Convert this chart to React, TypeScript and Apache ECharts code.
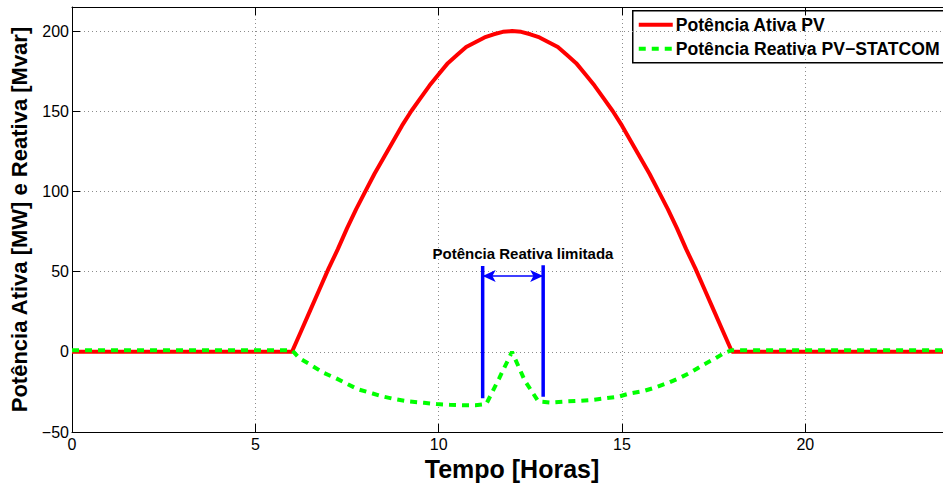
import React, { useEffect, useRef } from "react";
import * as echarts from "echarts";

const activeHours = [0, 6, 6.25, 6.5, 6.75, 7, 7.25, 7.5, 7.75, 8, 8.25, 8.5, 8.75, 9, 9.25, 9.5, 9.75, 10, 10.25, 10.5, 10.75, 11, 11.25, 11.5, 11.75, 12, 12.25, 12.5, 12.75, 13, 13.25, 13.5, 13.75, 14, 14.25, 14.5, 14.75, 15, 15.25, 15.5, 15.75, 16, 16.25, 16.5, 16.75, 17, 17.25, 17.5, 17.75, 18, 24];
const activeValues = [0, 0, 13, 26, 39, 52, 64, 77, 89, 100, 111, 121, 131, 141, 150, 158, 166, 173, 180, 185, 190, 193, 196, 198, 199.5, 200, 199.5, 198, 196, 193, 190, 185, 180, 173, 166, 158, 150, 141, 131, 121, 111, 100, 89, 77, 64, 52, 39, 26, 13, 0, 0];

const reactiveHours = [0, 6, 6.2, 6.5, 6.85, 7.2, 7.5, 7.8, 8.2, 8.5, 8.85, 9.2, 9.6, 9.95, 10.3, 10.7, 11.0, 11.3, 11.65, 12.0, 12.35, 12.72, 13.05, 13.45, 13.8, 14.2, 14.55, 14.9, 15.2, 15.6, 15.9, 16.25, 16.6, 16.9, 17.2, 17.55, 17.8, 18.0, 24];
const reactiveValues = [1, 1, -4, -8, -13, -16.5, -20, -23.4, -26, -28, -29.7, -31, -31.8, -32.6, -33, -33.3, -33.3, -32.5, -16.5, 0, -18, -31, -31.6, -31, -30.6, -30, -29, -28, -26, -24.4, -22.3, -19.4, -16, -12.5, -8.3, -4, -0.6, 1, 1];

const limitHours = [11.2, 12.85];
const limitBottoms = [-29, -28];
const limitTops = [53.5, 54];
const arrowLevel = 47.2;
const annotationText = "Potência Reativa limitada";
const annotationPos = [12.3, 61.5];

const xTicks = [0, 5, 10, 15, 20];
const yTicks = [-50, 0, 50, 100, 150, 200];

const seriesNames = ["Potência Ativa PV", "Potência Reativa PV\u2212STATCOM"];
const seriesColors = ["#ff0000", "#00ff00"];

const FONT = "'Liberation Sans', Arial, Helvetica, sans-serif";

export default function App() {
  const ref = useRef<HTMLDivElement>(null);
  useEffect(() => {
    if (!ref.current) return;
    const chart = echarts.init(ref.current, null, { renderer: "svg" });
    const zip = (xs: number[], ys: number[]) => xs.map((x, i) => [x, ys[i]]);
    const fmtNum = (v: number) => (v < 0 ? "\u2212" + Math.abs(v) : String(v));
    const legendTop = 10;
    const rowH = 24;
    const option: any = {
      animation: false,
      backgroundColor: "#fff",
      grid: { left: 72, top: 7, width: 880, height: 425, outerBoundsMode: "none", containLabel: false },
      graphic: [
        {
          type: "group",
          left: 632,
          top: legendTop,
          z: 100,
          children: [
            {
              type: "rect",
              shape: { x: 0, y: 0, width: 330, height: 52 },
              style: { fill: "#fff", stroke: "#000", lineWidth: 1.5 },
            },
            {
              type: "line",
              shape: { x1: 6, y1: 14, x2: 40, y2: 14 },
              style: { stroke: seriesColors[0], lineWidth: 4 },
            },
            {
              type: "line",
              shape: { x1: 6, y1: 14 + rowH, x2: 40, y2: 14 + rowH },
              style: { stroke: seriesColors[1], lineWidth: 4, lineDash: [7, 6] },
            },
            {
              type: "text",
              x: 43,
              y: 14,
              style: {
                text: seriesNames[0],
                fill: "#000",
                font: `bold 17.6px ${FONT}`,
                verticalAlign: "middle",
              },
            },
            {
              type: "text",
              x: 43,
              y: 14 + rowH,
              style: {
                text: seriesNames[1],
                fill: "#000",
                font: `bold 17.6px ${FONT}`,
                verticalAlign: "middle",
              },
            },
          ],
        },
      ],
      xAxis: [
        {
          type: "value",
          min: 0,
          max: 24,
          interval: 5,
          name: "Tempo [Horas]",
          nameLocation: "middle",
          nameGap: 20,
          nameTextStyle: { fontSize: 25, fontWeight: "bold", color: "#000", fontFamily: FONT },
          axisLine: { show: true, onZero: false, lineStyle: { color: "#000", width: 1 } },
          axisTick: { show: true, inside: true, length: 8, lineStyle: { color: "#000" } },
          axisLabel: {
            fontSize: 16,
            color: "#000",
            fontFamily: FONT,
            margin: 4,
            formatter: (v: number) => (xTicks.includes(v) ? fmtNum(v) : ""),
          },
          splitLine: { show: true, lineStyle: { color: "#8c8c8c", type: [1, 3], width: 1 } },
        },
        {
          type: "value",
          position: "top",
          min: 0,
          max: 24,
          interval: 5,
          axisLine: { show: true, onZero: false, lineStyle: { color: "#000", width: 1 } },
          axisTick: { show: true, inside: true, length: 8, lineStyle: { color: "#000" } },
          axisLabel: { show: false },
          splitLine: { show: false },
        },
      ],
      yAxis: {
        type: "value",
        min: -50,
        max: 215,
        interval: 50,
        name: "Potência Ativa [MW] e Reativa [Mvar]",
        nameLocation: "middle",
        nameGap: 42,
        nameTextStyle: { fontSize: 22, fontWeight: "bold", color: "#000", fontFamily: FONT },
        axisLine: { show: true, onZero: false, lineStyle: { color: "#000", width: 1 } },
        axisTick: { show: true, inside: true, length: 8, lineStyle: { color: "#000" } },
        axisLabel: {
          fontSize: 16,
          color: "#000",
          fontFamily: FONT,
          margin: 3,
          formatter: (v: number) => (yTicks.includes(v) ? fmtNum(v) : ""),
        },
        splitLine: { show: true, lineStyle: { color: "#8c8c8c", type: [1, 3], width: 1 } },
      },
      series: [
        {
          name: seriesNames[0],
          type: "line",
          data: zip(activeHours, activeValues),
          symbol: "none",
          lineStyle: { color: seriesColors[0], width: 4 },
          itemStyle: { color: seriesColors[0] },
          z: 3,
        },
        {
          name: seriesNames[1],
          type: "line",
          data: zip(reactiveHours, reactiveValues),
          symbol: "none",
          lineStyle: { color: seriesColors[1], width: 4, type: [7, 6] },
          itemStyle: { color: seriesColors[1] },
          z: 4,
        },
        {
          name: "limite1",
          type: "line",
          data: [
            [limitHours[0], limitBottoms[0]],
            [limitHours[0], limitTops[0]],
          ],
          symbol: "none",
          lineStyle: { color: "#0000ff", width: 3.5 },
          z: 5,
          markLine: {
            silent: true,
            symbol: ["arrow", "arrow"],
            symbolSize: [9, 13],
            lineStyle: { color: "#0000ff", width: 1.5, type: "solid" },
            label: { show: false },
            data: [[{ coord: [limitHours[0], arrowLevel] }, { coord: [limitHours[1], arrowLevel] }]],
          },
          markPoint: {
            silent: true,
            symbol: "circle",
            symbolSize: 0,
            data: [
              {
                coord: annotationPos,
                label: {
                  show: true,
                  position: "inside",
                  formatter: annotationText,
                  color: "#000",
                  fontWeight: "bold",
                  fontSize: 15,
                  fontFamily: FONT,
                },
              },
            ],
          },
        },
        {
          name: "limite2",
          type: "line",
          data: [
            [limitHours[1], limitBottoms[1]],
            [limitHours[1], limitTops[1]],
          ],
          symbol: "none",
          lineStyle: { color: "#0000ff", width: 3.5 },
          z: 5,
        },
      ],
    };
    chart.setOption(option);
    return () => chart.dispose();
  }, []);
  return <div ref={ref} style={{ position: "fixed", left: 0, top: 0, width: 943, height: 485 }} />;
}
